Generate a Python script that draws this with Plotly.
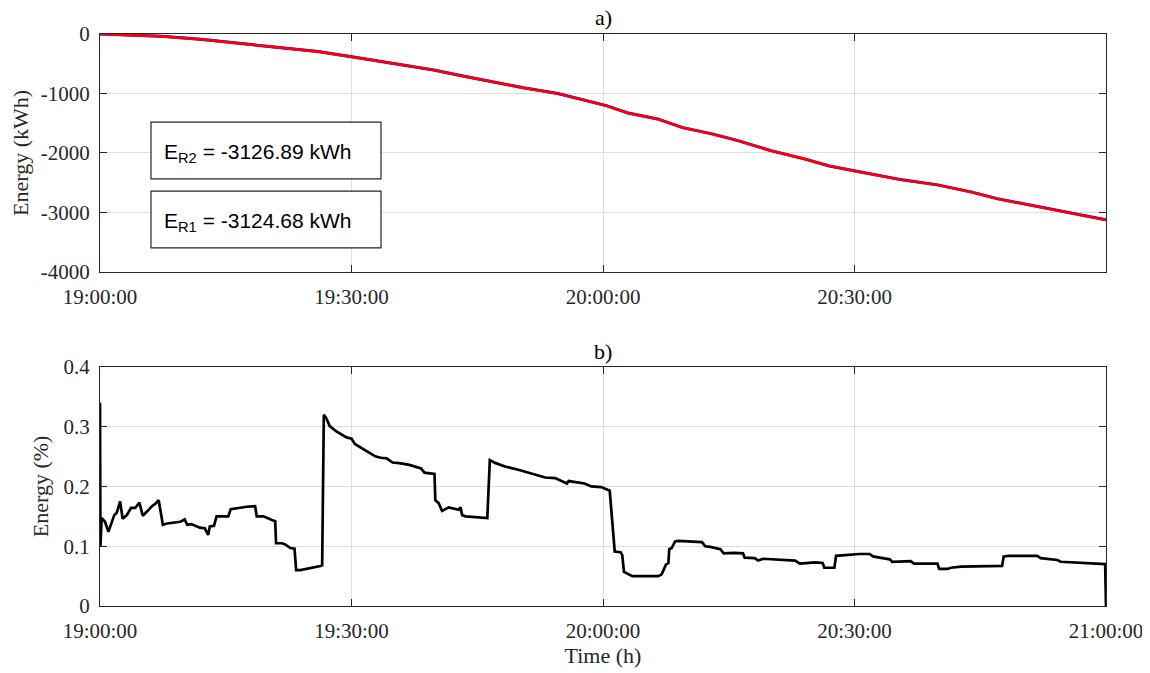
import pandas as pd
import plotly.graph_objects as go

# ---------------- data ----------------
base_time = "2021-01-01 19:00:00"

# panel a) cumulative energy, minutes after 19:00
top_minutes = [0, 3, 7.4, 12, 16.1, 20, 23.3, 26, 30.4, 35, 39.8, 43, 46.6, 50.5, 54.6,
               57, 60.4, 63, 66.5, 69.5, 73, 76, 80, 84, 87, 90.4, 95.7, 99.9, 104,
               107, 111, 115.5, 118, 119.98]
energy_R2 = [0, -12, -39, -90, -151, -205, -263, -295, -392, -490, -605, -700, -802, -905, -1000,
             -1090, -1205, -1330, -1429, -1575, -1680, -1790, -1961, -2100, -2220, -2314, -2454,
             -2538, -2660, -2770, -2880, -3008, -3070, -3126.89]
energy_R1 = [0, -12, -39, -90, -151, -205, -263, -295, -392, -490, -604, -699, -801, -904, -999,
             -1089, -1204, -1329, -1428, -1574, -1679, -1789, -1960, -2099, -2218, -2312, -2452,
             -2536, -2658, -2768, -2878, -3006, -3068, -3124.68]

# panel b) relative difference (%), minutes after 19:00
bot_minutes = [0, 0.05, 0.2, 0.6, 1.0, 1.4, 1.7, 2.0, 2.4, 2.7, 3.2, 3.7, 4.2, 4.7, 5.1, 5.6, 6.2,
               6.6, 7.0, 7.5, 8.0, 9.6, 10.1, 10.4, 10.9, 11.9, 12.5, 12.9, 13.1, 13.6, 13.9, 15.3,
               15.6, 17.5, 18.5, 18.7, 19.5, 20.5, 20.9, 21.0, 21.7, 22.1, 22.7, 23.2, 23.4, 23.9,
               24.7, 26.3, 26.5, 26.7, 27.0, 27.4, 28.2, 29.4, 30.0, 30.4, 31.7, 32.9, 33.5, 34.2,
               34.9, 35.7, 36.9, 38.3, 38.7, 39.9, 40.0, 40.4, 40.8, 41.6, 42.8, 43.0, 43.2, 43.6,
               46.2, 46.5, 47.2, 48.4, 49.9, 51.5, 53.1, 54.3, 55.7, 55.9, 57.8, 58.6, 59.8, 60.8,
               61.4, 62.1, 62.3, 62.5, 63.5, 66.6, 67.0, 67.5, 67.8, 67.9, 68.2, 68.6, 69.0, 71.8,
               72.2, 72.8, 74.0, 74.4, 75.6, 76.7, 76.9, 78.1, 78.5, 79.1, 82.9, 83.5, 84.9, 85.3,
               86.2, 86.4, 87.6, 87.8, 90.6, 91.8, 92.2, 94.2, 94.5, 95.9, 96.7, 97.1, 99.9, 100.1,
               101.1, 101.5, 102.7, 107.6, 107.8, 108.4, 111.8, 112.2, 114.2, 114.6, 118.5, 119.7,
               119.9, 120.0]
energy_pct = [0.34, 0.10, 0.147, 0.141, 0.124, 0.139, 0.152, 0.156, 0.175, 0.146, 0.152, 0.164,
              0.164, 0.173, 0.151, 0.158, 0.167, 0.171, 0.177, 0.136, 0.138, 0.141, 0.145, 0.136,
              0.137, 0.131, 0.130, 0.119, 0.133, 0.134, 0.150, 0.150, 0.162, 0.166, 0.167, 0.150,
              0.150, 0.144, 0.142, 0.105, 0.105, 0.103, 0.097, 0.096, 0.060, 0.060, 0.062, 0.067,
              0.068, 0.320, 0.314, 0.301, 0.292, 0.282, 0.280, 0.271, 0.260, 0.250, 0.248, 0.247,
              0.240, 0.239, 0.236, 0.230, 0.223, 0.221, 0.177, 0.172, 0.159, 0.165, 0.161, 0.165,
              0.152, 0.150, 0.147, 0.244, 0.239, 0.233, 0.228, 0.221, 0.215, 0.214, 0.205, 0.209,
              0.205, 0.200, 0.199, 0.193, 0.091, 0.090, 0.085, 0.057, 0.050, 0.050, 0.053, 0.069,
              0.072, 0.095, 0.097, 0.108, 0.109, 0.107, 0.100, 0.099, 0.095, 0.088, 0.089, 0.088,
              0.081, 0.080, 0.076, 0.079, 0.076, 0.071, 0.072, 0.073, 0.072, 0.064, 0.064, 0.084,
              0.087, 0.087, 0.083, 0.078, 0.074, 0.075, 0.075, 0.071, 0.071, 0.062, 0.062, 0.064,
              0.066, 0.067, 0.083, 0.084, 0.084, 0.080, 0.077, 0.074, 0.071, 0.071, 0.070, 0.0]

top_tickvals = [0, -1000, -2000, -3000, -4000]
top_ticktext = ["0", "-1000", "-2000", "-3000", "-4000"]
bot_tickvals = [0, 0.1, 0.2, 0.3, 0.4]
bot_ticktext = ["0", "0.1", "0.2", "0.3", "0.4"]
label_R2 = "E<sub>R2</sub> = -3126.89 kWh"
label_R1 = "E<sub>R1</sub> = -3124.68 kWh"

# ---------------- figure ----------------
t0 = pd.Timestamp(base_time)
x_top = t0 + pd.to_timedelta(top_minutes, unit="min")
x_bot = t0 + pd.to_timedelta(bot_minutes, unit="min")

fig = go.Figure()
fig.add_trace(go.Scatter(x=x_top, y=energy_R1, mode="lines", line=dict(color="#0000ff", width=3.0),
                         xaxis="x", yaxis="y", showlegend=False))
fig.add_trace(go.Scatter(x=x_top, y=energy_R2, mode="lines", line=dict(color="#ff0000", width=2.7),
                         xaxis="x", yaxis="y", showlegend=False))
fig.add_trace(go.Scatter(x=x_bot, y=energy_pct, mode="lines", line=dict(color="#000000", width=2.7),
                         xaxis="x2", yaxis="y2", showlegend=False))

serif = "Liberation Serif, Times New Roman, serif"
sans = "Liberation Sans, Arial, sans-serif"

axis_common = dict(
    showline=True, linecolor="#262626", linewidth=1.2, mirror="ticks",
    ticks="inside", ticklen=7, tickcolor="#262626", tickwidth=1,
    showgrid=True, gridcolor="#dfdfdf", gridwidth=1, zeroline=False,
    tickfont=dict(family=serif, size=21, color="#262626"),
)

fig.update_layout(
    width=1150, height=673,
    margin=dict(l=92, r=52, t=26, b=75, autoexpand=False),
    paper_bgcolor="white", plot_bgcolor="white",
    xaxis=dict(axis_common, type="date", domain=[0, 1], anchor="y",
               range=[t0, t0 + pd.Timedelta(minutes=119, seconds=59)],
               dtick=1800000, tick0=t0, tickformat="%H:%M:%S", ticklabelstandoff=6),
    yaxis=dict(axis_common, domain=[0.584, 1], anchor="x", range=[-4000, 0],
               tickvals=top_tickvals, ticktext=top_ticktext, ticklabelstandoff=5,
               title=dict(text="Energy (kWh)", font=dict(family=serif, size=22, color="#262626"),
                          standoff=8)),
    xaxis2=dict(axis_common, type="date", domain=[0, 1], anchor="y2",
                range=[t0, t0 + pd.Timedelta(minutes=120)],
                dtick=1800000, tick0=t0, tickformat="%H:%M:%S", ticklabelstandoff=6,
                title=dict(text="Time (h)", font=dict(family=serif, size=22, color="#262626"),
                           standoff=4)),
    yaxis2=dict(axis_common, domain=[0, 0.418], anchor="x2", range=[0, 0.4],
                tickvals=bot_tickvals, ticktext=bot_ticktext, ticklabelstandoff=5,
                title=dict(text="Energy (%)", font=dict(family=serif, size=22, color="#262626"),
                           standoff=8)),
)

# subplot titles
fig.add_annotation(text="a)", xref="paper", yref="paper", x=0.5, y=1.029, showarrow=False,
                   xanchor="center", yanchor="middle", font=dict(family=serif, size=22, color="#000"))
fig.add_annotation(text="b)", xref="paper", yref="paper", x=0.5, y=0.4458, showarrow=False,
                   xanchor="center", yanchor="middle", font=dict(family=serif, size=22, color="#000"))

# text boxes
for (y0, y1, txt) in [(0.391, 0.630, label_R2), (0.101, 0.340, label_R1)]:
    fig.add_shape(type="rect", xref="x domain", yref="y domain", x0=0.0507, x1=0.2793,
                  y0=y0, y1=y1, line=dict(color="#262626", width=1.2), fillcolor="white", layer="above")
    fig.add_annotation(text=txt, xref="x domain", yref="y domain", x=0.062, y=(y0 + y1) / 2 - 0.01,
                       showarrow=False, xanchor="left", yanchor="middle",
                       font=dict(family=sans, size=21, color="#000"))

fig.write_html("out.html")
